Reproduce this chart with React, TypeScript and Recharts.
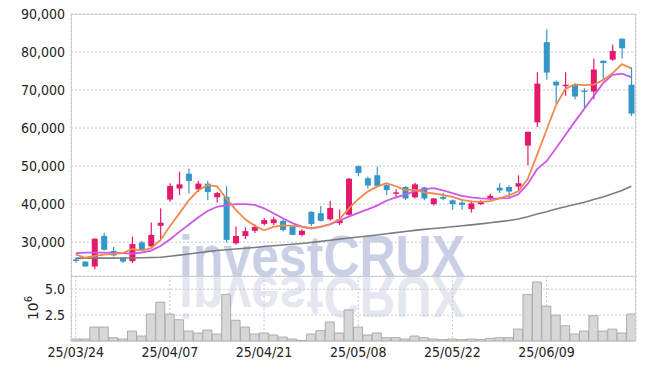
import React from 'react';
import { ComposedChart, Bar, Line, XAxis, YAxis, CartesianGrid, BarChart } from 'recharts';

const dates = [
  '25/03/24', '25/03/25', '25/03/26', '25/03/27', '25/03/28', '25/03/31', '25/04/01', '25/04/02', '25/04/03', '25/04/04',
  '25/04/07', '25/04/08', '25/04/09', '25/04/10', '25/04/11', '25/04/14', '25/04/15', '25/04/16', '25/04/17', '25/04/18',
  '25/04/21', '25/04/22', '25/04/23', '25/04/24', '25/04/25', '25/04/28', '25/04/29', '25/04/30', '25/05/02', '25/05/07',
  '25/05/08', '25/05/09', '25/05/12', '25/05/13', '25/05/14', '25/05/15', '25/05/16', '25/05/19', '25/05/20', '25/05/21',
  '25/05/22', '25/05/23', '25/05/26', '25/05/27', '25/05/28', '25/05/29', '25/05/30', '25/06/02', '25/06/04', '25/06/05',
  '25/06/09', '25/06/10', '25/06/11', '25/06/12', '25/06/13', '25/06/16', '25/06/17', '25/06/18', '25/06/19', '25/06/20',
];

const open = [
  25450, 24900, 23600, 31650, 27700, 25900, 25000, 29900, 28900, 34300,
  41200, 44100, 48000, 43900, 45400, 41800, 41900, 29700, 31600, 33000,
  34800, 35000, 35600, 34100, 31900, 38000, 37600, 36000, 35000, 37200,
  50000, 46800, 47600, 45000, 43000, 44500, 41800, 44400, 40000, 41900,
  41000, 40400, 38700, 40000, 41400, 44300, 44500, 44600, 55400, 61500,
  82600, 72200, 71200, 71500, 69900, 69600, 77700, 78000, 83500, 71400,
];
const high = [
  25900, 25000, 31000, 32400, 28700, 26000, 31500, 30300, 35200, 38900,
  45500, 48500, 49400, 46100, 46100, 43200, 44700, 34100, 33900, 34700,
  36300, 36700, 36000, 34500, 33400, 38100, 39500, 40800, 38600, 46900,
  50200, 47200, 49800, 45200, 43900, 44700, 45600, 44600, 41600, 43000,
  41200, 40900, 40900, 41000, 42700, 45500, 44900, 47600, 59100, 74700,
  85900, 72500, 74700, 71800, 70500, 78200, 77800, 81900, 83600, 76000,
];
const low = [
  24600, 23500, 22900, 27800, 26200, 24500, 24500, 27800, 28700, 30500,
  40600, 42400, 42800, 43200, 41000, 40400, 29900, 29300, 30800, 32400,
  34400, 34500, 32800, 31800, 31500, 34300, 35400, 35600, 34500, 37000,
  47300, 44100, 44500, 42400, 41500, 41100, 41500, 41000, 39600, 41000,
  38500, 38500, 37800, 39800, 41100, 42900, 41600, 43600, 50200, 60300,
  72700, 66400, 68500, 67600, 65000, 67600, 72700, 77700, 78200, 63200,
];
const close = [
  25350, 23600, 30900, 28000, 26500, 24900, 29500, 28000, 31900, 35100,
  44800, 45200, 46100, 45400, 43200, 42900, 30600, 31600, 32900, 34000,
  35800, 36000, 33200, 31900, 33000, 34800, 35600, 39000, 36000, 46700,
  48200, 44900, 44800, 43700, 43100, 41500, 45200, 41500, 41500, 41400,
  40000, 39800, 40200, 40600, 42200, 43600, 43300, 45500, 59000, 71700,
  74600, 71200, 71400, 68300, 69800, 75400, 77100, 80300, 81000, 63800,
];

// moving average lines
const ma5 = [
  26800, 25900, 26400, 26700, 26900, 27100, 28200, 27800, 28400, 30500,
  34200, 37500, 41000, 43600, 45000, 44700, 41500, 38500, 36000, 34300,
  33100, 34000, 34400, 34300, 34100, 33700, 34000, 34700, 36000, 38800,
  41300, 43300, 44600, 45500, 44700, 43700, 43800, 43100, 42800, 42400,
  41900, 41100, 40700, 40600, 40800, 41500, 42300, 43400, 46600, 53000,
  59500, 66000, 70300, 71500, 71300, 71400, 72600, 74400, 76800, 75700,
];
const ma10 = [
  27100, 27250, 27250, 27250, 27150, 27100, 27000, 27250, 27800, 29000,
  30700, 32700, 34600, 36500, 38200, 39300, 39700, 40000, 40000, 39800,
  38900, 37600, 36300, 35000, 34100, 33600, 34000, 34700, 35700, 36700,
  37700, 38600, 39600, 40900, 41800, 42500, 43400, 43900, 44200, 43600,
  42900, 42200, 41800, 41500, 41400, 41500, 41600, 42600, 45300, 49200,
  51300, 54700, 58200, 61700, 65000, 68400, 71800, 74000, 74300, 73400,
];
const maLong = [
  25800, 25800, 25800, 25800, 25800, 25850, 25850, 25900, 25950, 26050,
  26300, 26600, 26900, 27200, 27500, 27800, 28000, 28200, 28400, 28600,
  28850, 29050, 29250, 29450, 29650, 29900, 30200, 30500, 30800, 31100,
  31350, 31600, 31900, 32200, 32500, 32800, 33100, 33350, 33600, 33800,
  34050, 34300, 34550, 34800, 35100, 35400, 35700, 36100, 36700, 37400,
  38000, 38700, 39300, 39900, 40500, 41200, 41900, 42700, 43600, 44700,
];

// volume in millions
const volume = [
  0.19, 0.19, 1.35, 1.35, 0.32, 0.19, 0.96, 0.48, 2.6, 3.75,
  2.6, 2.05, 0.96, 0.77, 1.06, 0.67, 4.5, 2.0, 1.35, 0.67,
  0.77, 0.58, 0.38, 0.19, 0.06, 0.67, 1.0, 1.83, 0.77, 3.0,
  1.35, 0.58, 0.77, 0.32, 0.32, 0.19, 0.48, 0.32, 0.19, 0.13,
  0.19, 0.13, 0.19, 0.13, 0.26, 0.32, 0.32, 1.15, 4.5, 5.7,
  3.37, 2.5, 1.47, 0.67, 0.96, 2.44, 0.96, 1.15, 0.77, 2.6,
];

const priceTicks = [30000, 40000, 50000, 60000, 70000, 80000, 90000];
const volumeTicks = [2.5, 5.0];
const dateTicks = ['25/03/24', '25/04/07', '25/04/21', '25/05/08', '25/05/22', '25/06/09'];

const data = dates.map((d, i) => ({
  date: d,
  open: open[i],
  high: high[i],
  low: low[i],
  close: close[i],
  range: [low[i], high[i]],
  ma5: ma5[i],
  ma10: ma10[i],
  maLong: maLong[i],
  volume: volume[i],
}));

const RED = '#e5196c';
const BLUE = '#3597c9';
const GRID = '#c6c9d9';
const FONT = "'DejaVu Sans Condensed', 'DejaVu Sans', sans-serif";

const Candle = (props: any) => {
  const { x, y, width, height, payload } = props;
  const top = Math.min(y, y + height);
  const h = Math.abs(height);
  const { open: o, close: c, high: hi, low: lo } = payload;
  const color = c >= o ? RED : BLUE;
  const k = h / (hi - lo);
  const bodyTop = top + (hi - Math.max(o, c)) * k;
  const bodyH = Math.max(1.5, Math.abs(o - c) * k);
  const cx = x + width / 2;
  return (
    <g>
      <line x1={cx} x2={cx} y1={top} y2={top + h} stroke={color} strokeWidth={1.2} />
      <rect x={cx - 3} y={bodyTop} width={6} height={bodyH} fill={color} />
    </g>
  );
};

export default function App() {
  const tickStyle = { fill: '#222', fontSize: 14, fontFamily: FONT };
  const xTickStyle = { fill: '#222', fontSize: 14, fontFamily: FONT };
  return (
    <div style={{ position: 'absolute', left: 0, top: 0, width: 645, height: 370, background: '#fff' }}>
      <svg width={645} height={370} style={{ position: 'absolute', left: 0, top: 0 }}>
        <text
          x={179}
          y={276}
          fontSize={57}
          fontWeight="bold"
          fill="#c9d0e6"
          fontFamily="'Liberation Sans', Arial, sans-serif"
          textLength={286}
          lengthAdjust="spacingAndGlyphs"
        >
          investCRUX
        </text>
        <g transform="translate(0, 553) scale(1, -1)">
          <text
            x={179}
            y={276}
            fontSize={57}
            fontWeight="bold"
            fill="#e4e7f0"
            fontFamily="'Liberation Sans', Arial, sans-serif"
            textLength={286}
            lengthAdjust="spacingAndGlyphs"
          >
            investCRUX
          </text>
        </g>
        <text
          transform="rotate(-90, 38, 308)"
          x={38}
          y={308}
          fontSize={14}
          fill="#222"
          fontFamily="'DejaVu Sans', sans-serif"
          textAnchor="middle"
        >
          10<tspan fontSize={10} dy={-6}>6</tspan>
        </text>
      </svg>

      <div style={{ position: 'absolute', left: 0, top: 0 }}>
        <ComposedChart width={645} height={276} data={data} margin={{ top: 14, right: 9, left: 0, bottom: 0 }}>
          <CartesianGrid stroke={GRID} strokeDasharray="2 2" />
          <XAxis dataKey="date" ticks={dateTicks} height={0} tick={false} axisLine={false} tickLine={false} />
          <YAxis
            domain={[21100, 90000]}
            ticks={priceTicks}
            width={71}
            tick={tickStyle}
            tickFormatter={(v: number) => v.toLocaleString('en-US')}
            axisLine={false}
            tickLine={false}
            tickSize={0}
            tickMargin={6}
            allowDataOverflow
          />
          <Line dataKey="maLong" stroke="#7d7d7d" strokeWidth={1.6} dot={false} isAnimationActive={false} />
          <Bar dataKey="range" shape={<Candle />} isAnimationActive={false} />
          <Line dataKey="ma10" stroke="#cf57e6" strokeWidth={1.8} dot={false} isAnimationActive={false} />
          <Line dataKey="ma5" stroke="#ef8a4c" strokeWidth={1.8} dot={false} isAnimationActive={false} />
        </ComposedChart>
      </div>

      <div style={{ position: 'absolute', left: 0, top: 276 }}>
        <BarChart width={645} height={94} data={data} margin={{ top: 0, right: 9, left: 0, bottom: 0 }} barCategoryGap={0}>
          <CartesianGrid stroke={GRID} strokeDasharray="2 2" />
          <XAxis
            dataKey="date"
            ticks={dateTicks}
            height={29}
            tick={xTickStyle}
            axisLine={false}
            tickLine={false}
            tickSize={0}
            tickMargin={6}
            interval={0}
          />
          <YAxis
            domain={[0, 6.28]}
            ticks={volumeTicks}
            width={71}
            tick={tickStyle}
            tickFormatter={(v: number) => v.toFixed(1)}
            axisLine={false}
            tickLine={false}
            tickSize={0}
            tickMargin={6}
          />
          <Bar dataKey="volume" fill="#d7d7d7" stroke="#acacac" strokeWidth={1} isAnimationActive={false} />
        </BarChart>
      </div>

      <div
        style={{
          position: 'absolute',
          left: 71,
          top: 14,
          width: 565,
          height: 328,
          border: '1px solid #cfcfcf',
          boxSizing: 'border-box',
          pointerEvents: 'none',
        }}
      />
      <div style={{ position: 'absolute', left: 71, top: 276, width: 565, height: 1, background: '#cfcfcf' }} />
    </div>
  );
}
